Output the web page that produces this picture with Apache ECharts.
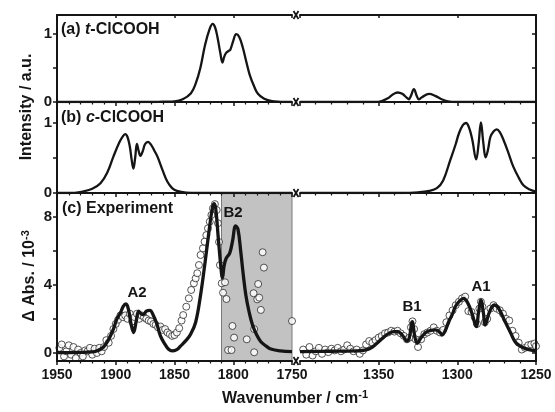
<!DOCTYPE html>
<html><head><meta charset="utf-8">
<script src="https://cdn.jsdelivr.net/npm/echarts@6/dist/echarts.min.js"></script>
<style>html,body{margin:0;padding:0;background:#fff}#c{width:555px;height:412px}</style>
</head><body><div id="c"></div>
<script>
// ---------- data (wavenumber / cm-1, value) ----------
const tLeft = [[1950,0],[1870,0],[1860,0.005],[1850,0.01],[1843,0.04],[1836,0.13],[1832,0.27],[1828,0.5],[1824,0.84],[1820,1.08],[1817.5,1.15],[1815.5,1.1],[1813.5,0.96],[1811,0.72],[1809.2,0.58],[1807.8,0.66],[1806.2,0.72],[1804,0.75],[1802.5,0.77],[1800,0.9],[1797.5,1.0],[1795,0.96],[1792,0.81],[1789,0.6],[1786,0.4],[1782,0.22],[1779,0.12],[1774,0.05],[1768,0.015],[1760,0.003],[1750,0]];
const tRight = [[1400,0],[1352,0],[1348,0.015],[1344.5,0.05],[1341,0.11],[1338,0.14],[1335,0.12],[1332,0.06],[1330.8,0.04],[1329.5,0.09],[1327.6,0.19],[1325.8,0.09],[1324.5,0.04],[1322.5,0.07],[1318,0.12],[1314,0.09],[1310,0.04],[1306,0.01],[1301,0],[1250,0]];
const cLeft = [[1950,0],[1935,0.003],[1928,0.02],[1920,0.06],[1913,0.14],[1907,0.3],[1902,0.52],[1897,0.72],[1894,0.81],[1892,0.84],[1890,0.8],[1888,0.66],[1886.5,0.48],[1885,0.35],[1883.5,0.5],[1882,0.7],[1880.5,0.6],[1879,0.53],[1877,0.6],[1875,0.7],[1872.5,0.73],[1870,0.69],[1867,0.6],[1864.5,0.52],[1860,0.32],[1856,0.16],[1852,0.07],[1848,0.03],[1840,0.005],[1830,0],[1750,0]];
const cRight = [[1400,0],[1335,0],[1325,0.01],[1318,0.03],[1313,0.07],[1309,0.18],[1304.5,0.47],[1301,0.7],[1299,0.85],[1296.5,0.97],[1294.5,1.0],[1292.5,0.93],[1290.5,0.76],[1288,0.48],[1286.5,0.7],[1285,1.01],[1283.5,0.72],[1282,0.51],[1280.5,0.62],[1279,0.8],[1277,0.88],[1275,0.91],[1273,0.87],[1270.7,0.76],[1267.5,0.57],[1264.5,0.38],[1261,0.22],[1258,0.11],[1254,0.05],[1250,0.02]];
const simLeft = [[1950,0.02],[1930,0.03],[1920,0.06],[1915,0.15],[1910.4,0.35],[1906,0.8],[1902,1.4],[1899,2.0],[1896,2.35],[1893.5,2.75],[1891.3,2.87],[1889,2.5],[1887,1.7],[1884.8,1.2],[1882.5,1.9],[1880.5,2.45],[1878.5,2.3],[1876.5,2.25],[1874,2.45],[1871,2.5],[1868,2.2],[1865,1.7],[1862,1.0],[1858,0.5],[1855,0.22],[1852,0.12],[1848,0.2],[1844.9,0.4],[1840,0.75],[1836.3,1.1],[1832,1.8],[1827.8,3.4],[1824,5.3],[1820.5,7.2],[1818,8.4],[1816.5,8.75],[1815,8.5],[1812.7,6.7],[1810.5,5.0],[1809.2,4.4],[1807.8,5.1],[1806,5.55],[1803,5.85],[1800.5,6.6],[1798,7.45],[1796,7.25],[1793.6,5.93],[1791.5,4.6],[1789.3,3.4],[1786.5,2.4],[1783.6,1.64],[1780,1.05],[1776.5,0.66],[1772,0.4],[1768,0.23],[1760,0.12],[1750,0.08]];
const simRight = [[1400,0.08],[1380,0.1],[1365,0.12],[1358,0.18],[1354,0.35],[1350,0.66],[1346.5,0.95],[1343.5,1.15],[1340.5,1.25],[1338,1.25],[1335,1.05],[1332,0.7],[1330.5,0.9],[1328.7,1.83],[1327,0.95],[1325.5,0.57],[1323,0.9],[1319.2,1.25],[1314,1.35],[1311,1.2],[1309.7,1.05],[1307.5,1.35],[1305.5,1.83],[1303,2.3],[1301.3,2.71],[1298.5,3.05],[1296,3.2],[1293.5,2.95],[1290.7,2.32],[1288,1.54],[1286.5,2.4],[1285,3.1],[1283.5,2.4],[1282.3,1.64],[1280,2.3],[1278,2.7],[1276.6,2.81],[1274,2.65],[1269.6,1.83],[1266,1.15],[1263.3,0.66],[1260,0.4],[1257,0.27],[1253,0.17],[1250,0.13]];
const expLeft = [[1948,0.3],[1946,0.5],[1944,-0.2],[1942,0.1],[1940,0.45],[1938,-0.1],[1936,0.35],[1934,-0.3],[1932,0.2],[1930,0.0],[1928,-0.2],[1926,0.15],[1924,0.1],[1922,0.3],[1920,-0.1],[1918,0.25],[1916,0.0],[1914,0.3],[1912,0.1],[1910,0.35],[1908,0.75],[1906,0.6],[1904,1.0],[1902,1.4],[1900,1.7],[1898,1.95],[1896,2.2],[1894,2.1],[1892,2.2],[1890,2.0],[1888,2.3],[1886,1.85],[1884,2.1],[1882,2.3],[1880,2.0],[1878,2.2],[1876,2.1],[1874,2.0],[1872,1.9],[1870,1.85],[1868,1.7],[1866,1.65],[1864,1.5],[1862,1.55],[1860,1.35],[1858,1.4],[1856,1.2],[1854,1.1],[1852,1.0],[1850,1.05],[1848,1.2],[1846,1.45],[1844,1.9],[1842.6,2.22],[1840,2.71],[1837.8,3.2],[1835.8,3.69],[1833.5,4.08],[1832,4.37],[1830.6,4.67],[1829.2,5.15],[1827.8,5.74],[1825.8,6.13],[1824.4,6.52],[1822.9,6.9],[1821.5,7.3],[1820,7.69],[1818.6,8.08],[1817.3,8.47],[1815.6,8.72],[1814.1,8.37],[1813,7.6],[1812.1,6.5]];
const expGray = [[1811.3,5.15],[1809.8,4.08],[1807,4.14],[1808.7,3.53],[1805.8,3.16],[1800.7,1.58],[1799.3,0.9],[1804.4,0.17],[1801.5,0.17],[1788.5,0.8],[1782.2,1.4],[1782.2,0.04],[1775,5.9],[1773.9,5.0],[1778.8,4.04],[1782.7,3.5],[1779.6,3.14],[1777.9,3.24],[1776.5,2.52],[1750,1.87]];
const expRight = [[1398,0.2],[1396,-0.1],[1394,0.35],[1392,-0.15],[1390,0.1],[1388,0.3],[1386,-0.05],[1384,0.2],[1382,0.05],[1380,0.25],[1378,0.15],[1376,0.3],[1374,0.1],[1372,0.2],[1370,0.45],[1368,0.25],[1366,0.1],[1364,0.2],[1362,-0.05],[1360,0.15],[1358,0.5],[1356,0.7],[1354,0.6],[1352,0.75],[1350,0.9],[1348,1.0],[1346,1.15],[1344,1.2],[1342,1.3],[1340,1.25],[1338,1.3],[1336,1.15],[1334,1.0],[1332,0.8],[1330.5,0.9],[1329.5,1.5],[1328.5,1.85],[1327.5,1.4],[1326.5,0.8],[1325,0.35],[1323,0.8],[1321,1.1],[1319,1.2],[1317,1.3],[1315,1.5],[1313,1.3],[1311,1.2],[1309,1.35],[1307,1.8],[1305,2.2],[1303,2.5],[1301,2.8],[1299,3.0],[1297,3.2],[1295,3.3],[1293,2.45],[1291,2.4],[1289,2.1],[1287.5,1.7],[1286,2.6],[1285,3.0],[1284,2.7],[1282.5,1.8],[1281,2.0],[1279,2.6],[1277,2.8],[1275,2.6],[1273,2.5],[1271,2.3],[1269,2.0],[1267,1.9],[1265,1.3],[1263,1.0],[1261,0.6],[1259,0.2],[1257,0.3],[1255,0.45],[1253,0.5],[1251,0.55],[1250,0.4]];
const shadedBand = [1810, 1750];
const leftRange = [1750, 1950], rightRange = [1250, 1400];
const leftXLabels = [1750, 1800, 1850, 1900, 1950], rightXLabels = [1250, 1300, 1350];
const intTicks = [0, 0.5, 1], intLabels = [0, 1];
const absTicks = [0, 2, 4, 6, 8], absLabels = [0, 4, 8];

// ---------- layout ----------
const FONT = '"Liberation Sans", Arial, sans-serif';
const INK = '#151515';
const cols = [{left: 57, width: 235}, {left: 300, width: 236}];
const rows = [{top: 15, height: 87}, {top: 102, height: 91}, {top: 193, height: 168}];
const yRanges = [[0, 1.28], [0, 1.3], [-0.47, 9.37]];

const grid = [], xAxis = [], yAxis = [];
rows.forEach((r, ri) => cols.forEach((c, ci) => {
  grid.push({left: c.left, width: c.width, top: r.top, height: r.height, containLabel: false});
  const gi = grid.length - 1;
  const rng = ci === 0 ? leftRange : rightRange;
  xAxis.push({
    type: 'value', gridIndex: gi, min: rng[0], max: rng[1], interval: 50, inverse: true, z: 10,
    axisLine: {show: true, onZero: false, lineStyle: {color: INK, width: 2}},
    axisTick: {show: true, inside: false, length: 4, lineStyle: {color: INK, width: 1.5}},
    minorTick: {show: true, splitNumber: 5, length: 2.5, lineStyle: {color: INK, width: 1.2}},
    splitLine: {show: false},
    axisLabel: {show: ri === 2, customValues: ci === 0 ? leftXLabels : rightXLabels, margin: 7,
      formatter: v => String(v),
      color: INK, fontFamily: FONT, fontWeight: 'bold', fontSize: 14}
  });
  const yr = yRanges[ri];
  yAxis.push({
    type: 'value', gridIndex: gi, min: yr[0], max: yr[1], position: ci === 0 ? 'left' : 'right', z: 10,
    axisLine: {show: true, onZero: false, lineStyle: {color: INK, width: 2}},
    axisTick: {show: true, inside: ci === 1, length: 4, customValues: ri === 2 ? absTicks : intTicks,
      lineStyle: {color: INK, width: 1.5}},
    splitLine: {show: false},
    axisLabel: {show: ci === 0, customValues: ri === 2 ? absLabels : intLabels, margin: 5,
      formatter: v => String(v),
      color: INK, fontFamily: FONT, fontWeight: 'bold', fontSize: 15}
  });
}));
// top border of panel (a)
[0, 1].forEach(gi => xAxis.push({
  type: 'value', gridIndex: gi, position: 'top', min: gi === 0 ? leftRange[0] : rightRange[0],
  max: gi === 0 ? leftRange[1] : rightRange[1], interval: 50, inverse: true, z: 10,
  axisLine: {show: true, onZero: false, lineStyle: {color: INK, width: 2}},
  axisTick: {show: true, inside: true, length: 3, lineStyle: {color: INK, width: 1.5}},
  minorTick: {show: false}, splitLine: {show: false}, axisLabel: {show: false}
}));

const lineSeries = (data, gi, w) => ({
  type: 'line', xAxisIndex: gi, yAxisIndex: gi, data, symbol: 'none', smooth: 0.4,
  lineStyle: {color: INK, width: w, join: 'round'}, z: 4, silent: true
});
const scatterSeries = (data, gi) => ({
  type: 'scatter', xAxisIndex: gi, yAxisIndex: gi, data, symbol: 'circle', symbolSize: 7,
  itemStyle: {color: '#fff', borderColor: '#2a2a2a', borderWidth: 1}, z: 3, silent: true
});

const series = [
  lineSeries(tLeft, 0, 2.3), lineSeries(tRight, 1, 2.3),
  lineSeries(cLeft, 2, 2.3), lineSeries(cRight, 3, 2.3),
  Object.assign(scatterSeries(expLeft.concat(expGray), 4), {
    markArea: {silent: true, z: 1, itemStyle: {color: '#c2c2c2', borderColor: '#7a7a7a', borderWidth: 1, opacity: 1},
      data: [[{xAxis: shadedBand[0]}, {xAxis: shadedBand[1]}]]}
  }),
  scatterSeries(expRight, 5),
  lineSeries(simLeft, 4, 3.3), lineSeries(simRight, 5, 3.3)
];

// ---------- text & break marks ----------
const bold = s => ({font: 'bold ' + s + 'px ' + FONT, fill: INK});
const graphic = [];
const centred = (x, y, text, size) => graphic.push({type: 'text', x, y, z: 20,
  style: Object.assign({text, align: 'center', verticalAlign: 'middle'}, bold(size))});
graphic.push({type: 'text', x: 61, y: 30, z: 20, style: {text: '{n|(a) }{i|t}{n|-ClCOOH}', verticalAlign: 'middle',
  rich: {n: bold(16), i: {font: 'italic bold 16px ' + FONT, fill: INK}}}});
graphic.push({type: 'text', x: 61, y: 118, z: 20, style: {text: '{n|(b) }{i|c}{n|-ClCOOH}', verticalAlign: 'middle',
  rich: {n: bold(16), i: {font: 'italic bold 16px ' + FONT, fill: INK}}}});
graphic.push({type: 'text', x: 62, y: 209, z: 20,
  style: Object.assign({text: '(c) Experiment', align: 'left', verticalAlign: 'middle'}, bold(16))});
centred(137, 293, 'A2', 15);
centred(233, 213, 'B2', 15);
centred(412, 307, 'B1', 15);
centred(481, 287, 'A1', 15);
graphic.push({type: 'text', x: 27, y: 107, rotation: Math.PI / 2, z: 20,
  style: Object.assign({text: 'Intensity / a.u.', align: 'center', verticalAlign: 'middle'}, bold(16))});
graphic.push({type: 'text', x: 30, y: 276, rotation: Math.PI / 2, z: 20,
  style: {text: '{n|Δ Abs. / 10}{s|-3}', align: 'center', verticalAlign: 'middle',
    rich: {n: bold(16), s: Object.assign(bold(11), {verticalAlign: 'top', padding: [0, 0, 9, 0]})}}});
graphic.push({type: 'text', x: 222, y: 399, z: 20,
  style: {text: '{n|Wavenumber / cm}{s|-1}', align: 'left', verticalAlign: 'middle',
    rich: {n: bold(16), s: Object.assign(bold(11), {verticalAlign: 'top', padding: [0, 0, 9, 0]})}}});
[15, 102, 193, 361].forEach(y => {
  graphic.push({type: 'line', z: 20, shape: {x1: 293.5, y1: y - 4, x2: 298.5, y2: y + 4}, style: {stroke: INK, lineWidth: 1.8}});
  graphic.push({type: 'line', z: 20, shape: {x1: 298.5, y1: y - 4, x2: 293.5, y2: y + 4}, style: {stroke: INK, lineWidth: 1.8}});
});

const chart = echarts.init(document.getElementById('c'), null, {renderer: 'canvas'});
chart.setOption({animation: false, backgroundColor: '#fff', grid, xAxis, yAxis, series, graphic});
</script></body></html>
